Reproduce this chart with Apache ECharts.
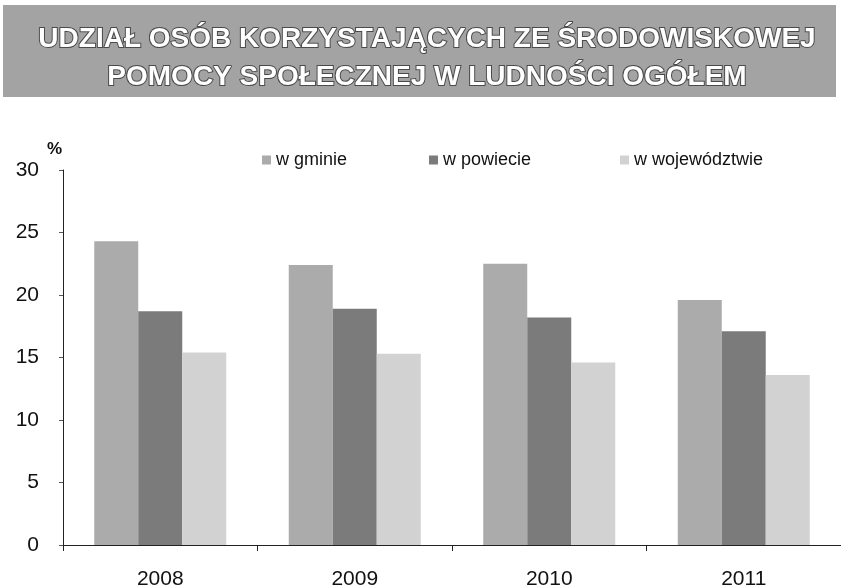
<!DOCTYPE html>
<html>
<head>
<meta charset="utf-8">
<script src="https://cdn.jsdelivr.net/npm/echarts@6/dist/echarts.min.js"></script>
<style>html,body{margin:0;padding:0;background:#fff;}#c{width:841px;height:587px;}</style>
</head>
<body>
<div id="c"></div>
<script>
const titleLines = ['UDZIAŁ OSÓB KORZYSTAJĄCYCH ZE ŚRODOWISKOWEJ', 'POMOCY SPOŁECZNEJ W LUDNOŚCI OGÓŁEM'];
const categories = ['2008', '2009', '2010', '2011'];
const seriesNames = ['w gminie', 'w powiecie', 'w województwie'];
const gmina = [24.3, 22.4, 22.5, 19.6];
const powiat = [18.7, 18.9, 18.2, 17.1];
const wojewodztwo = [15.4, 15.3, 14.6, 13.6];
const yTicks = [0, 5, 10, 15, 20, 25, 30];

const colors = ['#ababab', '#7b7b7b', '#d2d2d2'];
const chart = echarts.init(document.getElementById('c'), null, {renderer: 'canvas'});
const legendPos = [257, 424, 615];
const values = [gmina, powiat, wojewodztwo];

chart.setOption({
  animation: false,
  backgroundColor: '#ffffff',
  graphic: [
    {type: 'rect', shape: {x: 3, y: 5, width: 833, height: 92}, style: {fill: '#a3a3a3'}, z: -1},
    {type: 'text', left: 47, top: 141, style: {text: '%', font: 'bold 17px "Liberation Sans", Arial', fill: '#111'}}
  ],
  title: {
    text: titleLines.join('\n'),
    left: 422, top: 15, textAlign: 'center',
    textStyle: {
      fontFamily: '"Liberation Sans", Arial', fontWeight: 'bold', fontSize: 28, lineHeight: 38,
      color: '#ffffff', textBorderColor: '#4a4a4a', textBorderWidth: 2
    }
  },
  legend: seriesNames.map((n, i) => ({
    data: [n], left: legendPos[i], top: 146, itemWidth: 9, itemHeight: 9, icon: 'rect', itemGap: 2,
    textStyle: {fontFamily: '"Liberation Sans", Arial', fontSize: 18, color: '#111', padding: [0, 0, 0, 0]}
  })),
  grid: {left: 63, right: 0, top: 170, bottom: 42, containLabel: false, outerBoundsMode: 'none'},
  xAxis: {
    type: 'category', data: categories,
    axisLine: {lineStyle: {color: '#222', width: 1}},
    axisTick: {show: true, length: 6, lineStyle: {color: '#222'}},
    axisLabel: {margin: 24, fontFamily: '"Liberation Sans", Arial', fontSize: 21, color: '#111'}
  },
  yAxis: {
    type: 'value', min: yTicks[0], max: yTicks[yTicks.length - 1], interval: 5,
    axisLine: {show: true, lineStyle: {color: '#222', width: 1}},
    axisTick: {show: true, length: 4, lineStyle: {color: '#555'}},
    splitLine: {show: false},
    axisLabel: {margin: 24, fontFamily: '"Liberation Sans", Arial', fontSize: 21, color: '#111'}
  },
  series: seriesNames.map((n, i) => ({
    name: n, type: 'bar', data: values[i], barWidth: 44, barGap: '0%',
    itemStyle: {color: colors[i]}
  }))
});
</script>
</body>
</html>
